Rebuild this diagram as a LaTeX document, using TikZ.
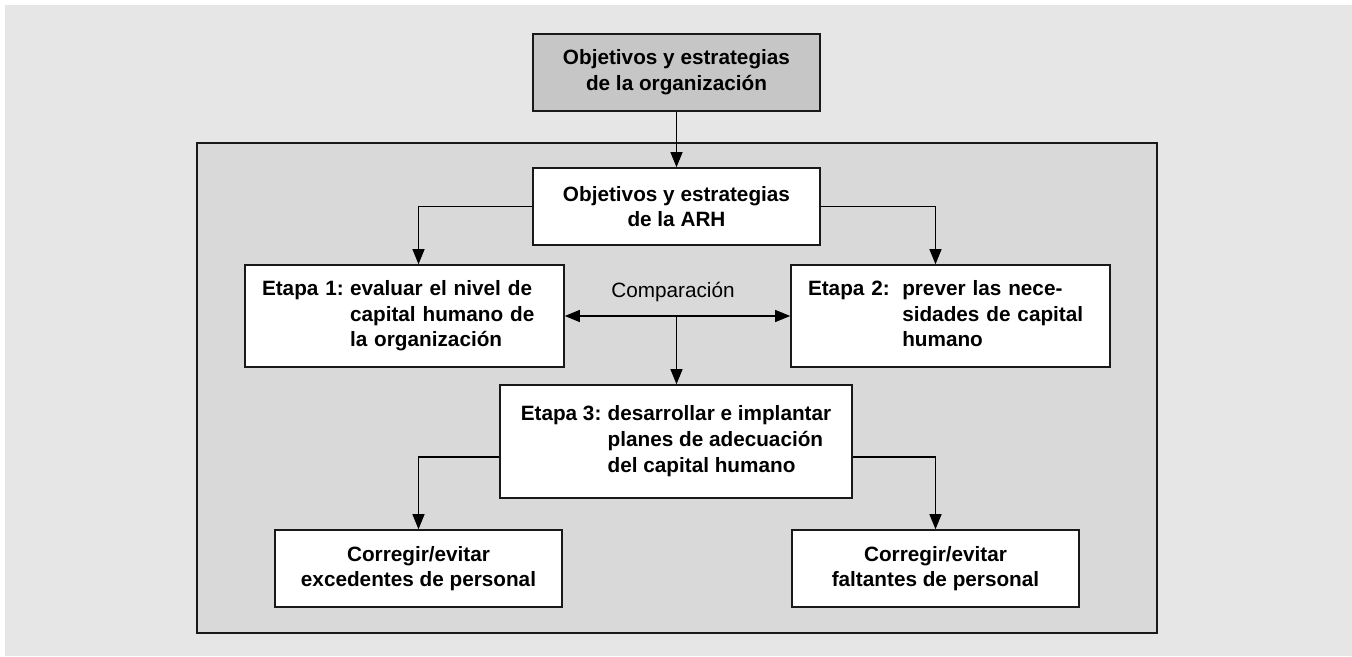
\documentclass[tikz,border=0pt]{standalone}
\usepackage{fontspec}
\setmainfont{Liberation Sans}
\usetikzlibrary{arrows.meta}
\definecolor{fondo}{HTML}{E6E6E6}
\definecolor{panel}{HTML}{D9D9D9}
\definecolor{gris}{HTML}{C6C6C6}
\tikzset{
  caja/.style={draw=black!90, line width=0.9pt, fill=white, align=center,
    font=\fontsize{11.8}{14.6}\selectfont\bfseries,
    minimum width=5.74cm, minimum height=1.54cm, inner sep=0pt},
  etapa/.style={caja, minimum width=6.38cm, minimum height=2.04cm,
    text width=5.7cm, inner xsep=0.34cm, align=left},
  punta/.tip={Triangle[length=3mm,width=2.4mm]},
  flecha/.style={line width=0.6pt, -punta},
  flechas/.style={line width=0.6pt, punta-punta},
}
\begin{document}
\begin{tikzpicture}
\useasboundingbox (0,0) rectangle (27.04,13.12);
\fill[white] (0,0) rectangle (27.04,13.12);
\fill[fondo] (0.1,0) rectangle (27.04,13.02);
\draw[fill=panel, line width=0.9pt, draw=black!90] (3.94,0.46) rectangle (23.14,10.26);
% cajas
\node[caja, fill=gris] (org) at (13.53,11.67) {Objetivos y estrategias\\de la organizaci\'on};
\node[caja] (arh) at (13.53,8.99) {Objetivos y estrategias\\de la ARH};
\node[etapa] (e1) at (8.09,6.8) {\begin{tabular}{@{}l@{\hspace{0.3em}}l@{}}
  Etapa 1: & evaluar el nivel de\\ & capital humano de\\ & la organizaci\'on\end{tabular}};
\node[etapa] (e2) at (19.01,6.8) {\begin{tabular}{@{}l@{\hspace{0.6em}}l@{}}
  Etapa 2: & prever las nece-\\ & sidades de capital\\ & humano\end{tabular}};
\node[caja, minimum width=7.04cm, minimum height=2.26cm] (e3) at (13.52,4.29) {\begin{tabular}{@{}l@{\hspace{0.3em}}l@{}}
  Etapa 3: & desarrollar e implantar\\ & planes de adecuaci\'on\\ & del capital humano\end{tabular}};
\node[caja] (exc) at (8.37,1.75) {Corregir/evitar\\excedentes de personal};
\node[caja] (falt) at (18.71,1.75) {Corregir/evitar\\faltantes de personal};
\node[font=\fontsize{11.8}{14.6}\selectfont] (comp) at (13.46,7.28) {Comparaci\'on};
\coordinate (medio) at (13.53,6.8);
% flechas
\draw[flecha] (org) -- (arh);
\draw[flecha] (arh.west) -| (e1.north -| exc.north);
\draw[flecha] (arh.east) -| (e2.north -| falt.north);
\draw[flechas] (e1) -- (e2);
\draw[flecha] (medio) -- (medio |- e3.north);
\draw[flecha] ([yshift=-0.31cm]e3.west) -| (exc);
\draw[flecha] ([yshift=-0.31cm]e3.east) -| (falt);
\end{tikzpicture}
\end{document}
